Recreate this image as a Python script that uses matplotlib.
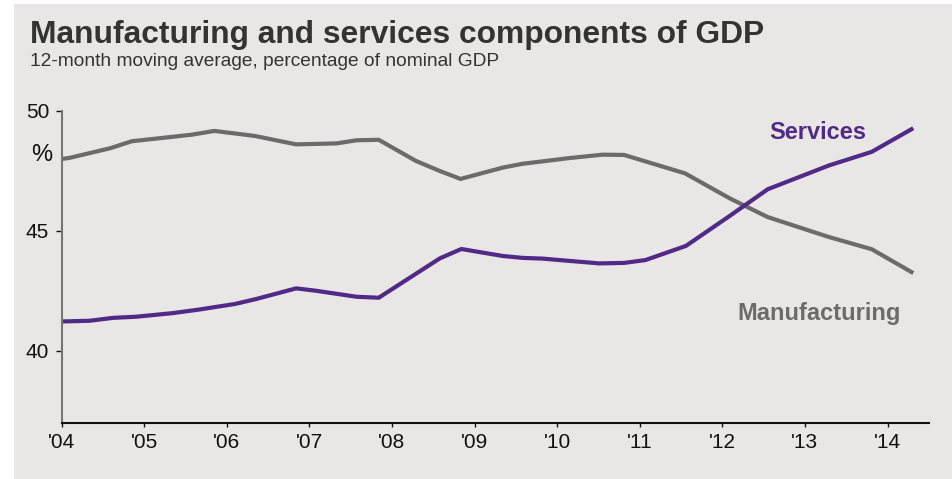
import matplotlib
matplotlib.use("Agg")
import matplotlib.pyplot as plt
from matplotlib.patches import Rectangle

# shares of nominal GDP, 12-month moving average (decimal years)
mfg_years = [2004.00, 2004.10, 2004.59, 2004.85, 2005.57, 2005.85, 2006.34, 2006.84,
             2007.33, 2007.57, 2007.84, 2008.29, 2008.58, 2008.83, 2009.34, 2009.58,
             2009.82, 2010.15, 2010.55, 2010.81, 2011.55, 2012.09, 2012.55, 2013.29,
             2013.81, 2014.29]
mfg_share = [48.00, 48.05, 48.45, 48.74, 49.01, 49.17, 48.96, 48.61,
             48.65, 48.78, 48.80, 47.92, 47.50, 47.17, 47.64, 47.80,
             47.90, 48.04, 48.18, 48.17, 47.40, 46.36, 45.58, 44.75,
             44.24, 43.29]

svc_years = [2004.00, 2004.34, 2004.62, 2004.91, 2005.35, 2005.67, 2006.10, 2006.36,
             2006.84, 2007.08, 2007.57, 2007.84, 2008.58, 2008.84, 2009.34, 2009.58,
             2009.82, 2010.51, 2010.81, 2011.07, 2011.56, 2012.09, 2012.55, 2013.29,
             2013.81, 2014.29]
svc_share = [41.23, 41.26, 41.38, 41.43, 41.58, 41.73, 41.96, 42.17,
             42.61, 42.51, 42.26, 42.22, 43.86, 44.25, 43.96, 43.88,
             43.85, 43.65, 43.67, 43.79, 44.38, 45.63, 46.74, 47.73,
             48.30, 49.24]

year_ticks = list(range(2004, 2015))
year_labels = ["'%02d" % (y % 100) for y in year_ticks]
pct_ticks = [40, 45, 50]

BG = "#e8e7e6"
GREY = "#6b6b6b"
PURPLE = "#512a87"
TEXT = "#333333"

plt.rcParams["font.family"] = ["Liberation Sans", "DejaVu Sans"]

fig = plt.figure(figsize=(9.52, 4.79), dpi=100)
fig.patch.set_facecolor("white")
fig.patches.append(Rectangle((14 / 952, 0), 1, 1 - 4 / 479, transform=fig.transFigure,
                             facecolor=BG, edgecolor="none", zorder=-10))

ax = fig.add_axes([61.6 / 952, 56 / 479, (928.8 - 61.6) / 952, (423 - 111) / 479])
ax.set_facecolor("none")

ax.plot(mfg_years, mfg_share, color=GREY, lw=3.0, solid_joinstyle="miter")
ax.plot(svc_years, svc_share, color=PURPLE, lw=3.0, solid_joinstyle="miter")

ax.set_xlim(2004, 2014.5)
ax.set_ylim(37, 50)
ax.set_xticks(year_ticks)
ax.set_xticklabels(year_labels, fontsize=15, color="#111111")
ax.set_yticks(pct_ticks)
ax.set_yticklabels([str(v) for v in pct_ticks], fontsize=15, color="#111111")
ax.tick_params(axis="x", length=3, width=1, color="#111111", pad=4)
ax.tick_params(axis="y", length=4, width=1, color="#111111", pad=5)

for side in ("top", "right"):
    ax.spines[side].set_visible(False)
ax.spines["left"].set_color("#777777")
ax.spines["left"].set_linewidth(1.5)
ax.spines["bottom"].set_color("#111111")
ax.spines["bottom"].set_linewidth(1.5)

ax.text(-0.011, 48.17, "%", transform=ax.get_yaxis_transform(), ha="right", va="center",
        fontsize=17, color="#111111")
ax.text(2013.16, 49.12, "Services", ha="center", va="center", fontsize=17,
        fontweight="bold", color=PURPLE)
ax.text(2013.17, 41.58, "Manufacturing", ha="center", va="center", fontsize=17,
        fontweight="bold", color=GREY)

fig.text(30 / 952, 1 - 35 / 479, "Manufacturing and services components of GDP",
         fontsize=22.9, fontweight="bold", color=TEXT, ha="left", va="center")
fig.text(30 / 952, 1 - 62 / 479, "12-month moving average, percentage of nominal GDP",
         fontsize=13.8, color=TEXT, ha="left", va="center")

fig.savefig("out.png", dpi=100, facecolor=fig.get_facecolor())
